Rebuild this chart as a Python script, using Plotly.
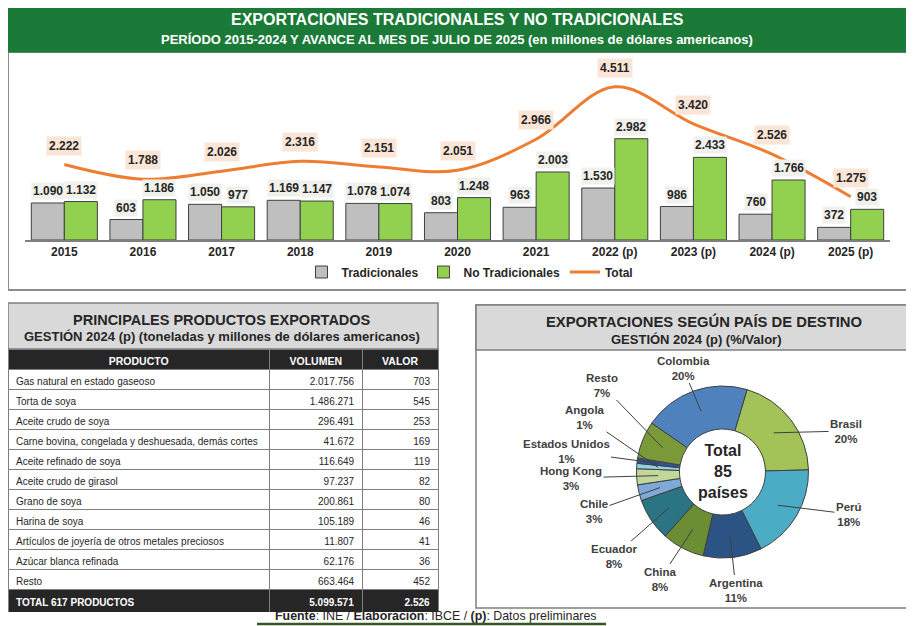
import math
import plotly.graph_objects as go

# the page body adds an 8px margin, so the figure is drawn 8px in from the window corner
OX, OY = 8, 8
W, H = 914 - OX, 626 - OY
FONT = "Liberation Sans, Arial, sans-serif"
DARK = "#262626"

# ---------------- data ----------------
years = ["2015", "2016", "2017", "2018", "2019", "2020", "2021",
         "2022 (p)", "2023 (p)", "2024 (p)", "2025 (p)"]
tradicionales = [1090, 603, 1050, 1169, 1078, 803, 963, 1530, 986, 760, 372]
no_tradicionales = [1132, 1186, 977, 1147, 1074, 1248, 2003, 2982, 2433, 1766, 903]
total = [2222, 1788, 2026, 2316, 2151, 2051, 2966, 4511, 3420, 2526, 1275]

productos = ["Gas natural en estado gaseoso", "Torta de soya", "Aceite crudo de soya",
             "Carne bovina, congelada y deshuesada, demás cortes", "Aceite refinado de soya",
             "Aceite crudo de girasol", "Grano de soya", "Harina de soya",
             "Artículos de joyería de otros metales preciosos", "Azúcar blanca refinada", "Resto"]
volumen = [2017756, 1486271, 296491, 41672, 116649, 97237, 200861, 105189, 11807, 62176, 663464]
valor = [703, 545, 253, 169, 119, 82, 80, 46, 41, 36, 452]
total_label = "TOTAL 617 PRODUCTOS"
total_volumen = 5099571
total_valor = 2526

paises = ["Brasil", "Perú", "Argentina", "China", "Ecuador", "Chile", "Hong Kong",
          "Angola", "Estados Unidos", "Resto", "Colombia"]
participacion = [20, 18, 11, 8, 8, 3, 3, 1, 1, 7, 20]
total_paises = 85

# ---------------- styles / layout constants ----------------
pie_colors = ["#A3C257", "#4BACC6", "#2B5484", "#6B8E35", "#2A7484", "#7FA9D8",
              "#C4D79B", "#8FD3E8", "#2F5597", "#7A9A3A", "#4F81BD"]
# label text centres (window pixels) for the pie labels
label_pos = {"Colombia": (683, 368), "Brasil": (846, 431), "Perú": (849, 514),
             "Argentina": (736, 590), "China": (660, 579), "Ecuador": (614, 556),
             "Chile": (594, 511), "Hong Kong": (571, 478), "Estados Unidos": (566, 451),
             "Angola": (585, 417), "Resto": (602, 385)}


def px(x):
    return min(max((x - OX) / W, 0), 1)


def py(y):
    return min(max(1 - (y - OY) / H, 0), 1)


def fmt(v):
    return f"{v:,}".replace(",", ".")


fig = go.Figure()

# ---------------- top chart ----------------
X0, X1, YB, YT = 25, 890, 240, 60
YMAX = 5300
BARGAP = 0.16
fig.add_bar(x=years, y=tradicionales, name="Tradicionales",
            marker=dict(color="#BFBFBF", line=dict(color="#404040", width=1)))
fig.add_bar(x=years, y=no_tradicionales, name="No Tradicionales",
            marker=dict(color="#92D050", line=dict(color="#404040", width=1)))
fig.add_scatter(x=years, y=total, mode="lines", name="Total",
                line=dict(color="#ED7D31", width=3, shape="spline", smoothing=1.0))

cat_w = (X1 - X0) / len(years)
bar_w = cat_w * (1 - BARGAP) / 2
annotations = []
for i, yr in enumerate(years):
    for val, sh in ((tradicionales[i], -bar_w / 2), (no_tradicionales[i], bar_w / 2)):
        annotations.append(dict(x=i, y=val, xref="x", yref="y", xshift=sh, yshift=3,
                                xanchor="center", yanchor="bottom", showarrow=False,
                                text=f"<b>{fmt(val)}</b>",
                                bgcolor="#F0F1EC", borderpad=1,
                                font=dict(size=12, color=DARK, family=FONT)))
    annotations.append(dict(x=i, y=total[i], xref="x", yref="y", yshift=9,
                            xanchor="center", yanchor="bottom", showarrow=False,
                            text=f"<b>{fmt(total[i])}</b>",
                            bgcolor="#FBE5D6", borderpad=2,
                            font=dict(size=12, color=DARK, family=FONT)))

# ---------------- table ----------------
n = len(productos)
col_prod = productos + [f"<b>{total_label}</b>"]
col_vol = [fmt(v) for v in volumen] + [f"<b>{fmt(total_volumen)}</b>"]
col_val = [fmt(v) for v in valor] + [f"<b>{fmt(total_valor)}</b>"]
fills = ["white"] * n + [DARK]
fcols = [DARK] * n + ["white"]
fig.add_trace(go.Table(
    domain=dict(x=[px(7), px(438)], y=[py(612), py(349)]),
    columnwidth=[262, 93, 76],
    header=dict(values=["PRODUCTO", "VOLUMEN", "VALOR"],
                fill_color=DARK, align="center", height=20,
                line=dict(color="#7F7F7F", width=1),
                font=dict(color="white", size=10.5, family=FONT, weight="bold")),
    cells=dict(values=[col_prod, col_vol, col_val],
               fill_color=[fills, fills, fills],
               align=["left", "right", "right"], height=20,
               line=dict(color="#7F7F7F", width=1),
               font=dict(color=[fcols, fcols, fcols], size=10, family=FONT))))

# ---------------- pie ----------------
PCX, PCY, PR = 722.5, 472, 86
HOLE = 0.5
ROT = 16.6
fig.add_trace(go.Pie(labels=paises, values=participacion, hole=HOLE, sort=False,
                     direction="clockwise", rotation=ROT, textinfo="none",
                     showlegend=False,
                     marker=dict(colors=pie_colors, line=dict(color="#404040", width=1)),
                     domain=dict(x=[px(PCX - PR), px(PCX + PR)], y=[py(PCY + PR), py(PCY - PR)])))

tot = sum(participacion)
cum = 0
for name, v in zip(paises, participacion):
    mid = math.radians(ROT + (cum + v / 2) / tot * 360)
    cum += v
    rr = PR * (1 + HOLE) / 2
    tx = PCX + rr * math.sin(mid)
    ty = PCY - rr * math.cos(mid)
    lx, ly = label_pos[name]
    annotations.append(dict(x=px(tx), y=py(ty), xref="paper", yref="paper",
                            ax=lx - tx, ay=ly - ty, showarrow=True, arrowhead=0,
                            arrowwidth=1, arrowcolor="#404040",
                            xanchor="center", yanchor="middle",
                            text=f"<b>{name}<br>{round(v / tot * 100)}%</b>",
                            font=dict(size=11.5, color="#404040", family=FONT)))
annotations.append(dict(x=px(PCX), y=py(471), xref="paper", yref="paper", showarrow=False,
                        xanchor="center", yanchor="middle",
                        text=f"<b>Total<br>{total_paises}<br>países</b>",
                        font=dict(size=16, color=DARK, family=FONT)))

# ---------------- frames, headers, titles ----------------
shapes = [
    dict(type="rect", x0=px(8), x1=px(907), y0=py(290), y1=py(52),
         line=dict(color="#8C8C8C", width=2), fillcolor="rgba(0,0,0,0)"),
    dict(type="rect", x0=px(8), x1=px(907), y0=py(52), y1=py(7),
         line=dict(color="#1B7A37", width=1), fillcolor="#1B7A37"),
    dict(type="rect", x0=px(7), x1=px(438), y0=py(349), y1=py(303),
         line=dict(color="#7F7F7F", width=1.5), fillcolor="#D9D9D9"),
    dict(type="rect", x0=px(476), x1=px(908), y0=py(608), y1=py(305),
         line=dict(color="#7F7F7F", width=1.5), fillcolor="rgba(0,0,0,0)"),
    dict(type="rect", x0=px(476), x1=px(908), y0=py(350), y1=py(305),
         line=dict(color="#7F7F7F", width=1.5), fillcolor="#D9D9D9"),
    dict(type="line", x0=px(257), x1=px(606), y0=py(624), y1=py(624),
         line=dict(color="#375623", width=2.5)),
]
for s in shapes:
    s.update(xref="paper", yref="paper")

titles = [
    (457, 20, "<b>EXPORTACIONES TRADICIONALES Y NO TRADICIONALES</b>", 16, "white"),
    (457, 39, "<b>PERÍODO 2015-2024 Y AVANCE AL MES DE JULIO DE 2025 (en millones de dólares americanos)</b>", 13, "white"),
    (222, 320, "<b>PRINCIPALES PRODUCTOS EXPORTADOS</b>", 14.5, DARK),
    (222, 337, "<b>GESTIÓN 2024 (p) (toneladas y millones de dólares americanos)</b>", 13, DARK),
    (704, 321, "<b>EXPORTACIONES SEGÚN PAÍS DE DESTINO</b>", 14.8, DARK),
    (696, 339, "<b>GESTIÓN 2024 (p) (%/Valor)</b>", 13, DARK),
    (436, 616, "<b>Fuente</b>: INE / <b>Elaboración</b>: IBCE / <b>(p)</b>: Datos preliminares", 12.4, DARK),
]
for x, y, t, s, c in titles:
    annotations.append(dict(x=px(x), y=py(y), xref="paper", yref="paper", showarrow=False,
                            xanchor="center", yanchor="middle",
                            text=t, font=dict(size=s, color=c, family=FONT)))

fig.update_layout(
    width=W, height=H, margin=dict(l=0, r=0, t=0, b=0),
    paper_bgcolor="white", plot_bgcolor="white",
    font=dict(family=FONT, color=DARK),
    barmode="group", bargap=BARGAP, bargroupgap=0,
    xaxis=dict(type="category", domain=[px(X0), px(X1)], range=[-0.5, len(years) - 0.5],
               showline=True, linecolor="#7F7F7F",
               linewidth=1.5, showgrid=False, ticks="",
               tickfont=dict(size=12, color=DARK, family=FONT, weight="bold")),
    yaxis=dict(domain=[py(YB), py(YT)], range=[0, YMAX], visible=False),
    legend=dict(orientation="h", x=px(470), xanchor="center", y=py(272), yanchor="middle",
                font=dict(size=12, color=DARK, family=FONT, weight="bold"),
                bgcolor="rgba(0,0,0,0)"),
    shapes=shapes, annotations=annotations,
)

fig.write_html("out.html")
